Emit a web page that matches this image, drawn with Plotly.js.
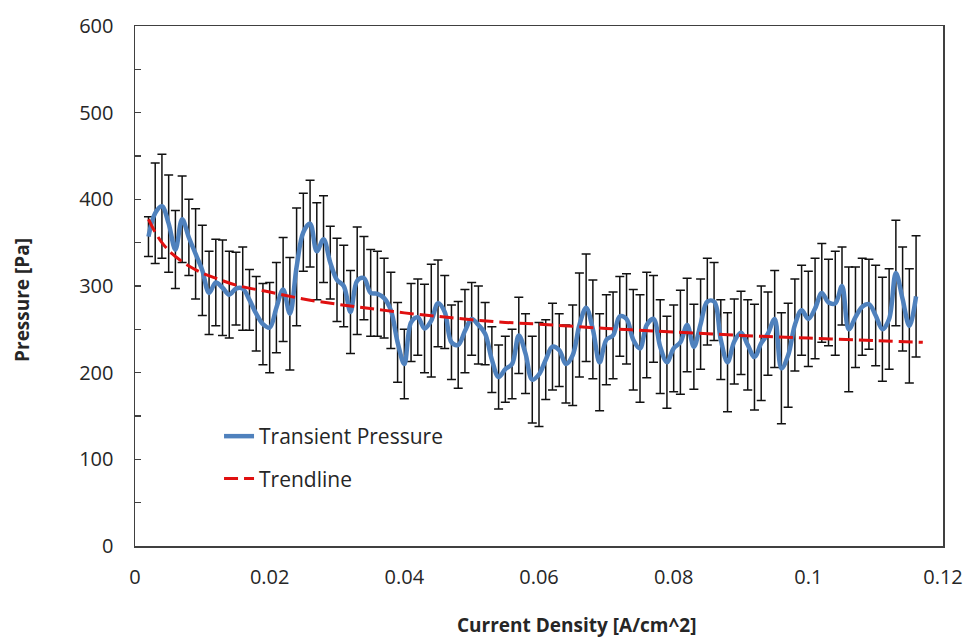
<!DOCTYPE html>
<html>
<head>
<meta charset="utf-8">
<script src="https://cdn.plot.ly/plotly-3.0.1.min.js"></script>
<style>
html,body{margin:0;padding:0;background:#fff;}
#chart{width:966px;height:642px;}
</style>
</head>
<body>
<div id="chart"></div>
<script>
// Current density [A/cm^2]
const currentDensity = [
0.002,0.003,0.004,0.005,0.006,0.007,0.008,0.009,0.010,0.011,
0.012,0.013,0.014,0.015,0.016,0.017,0.018,0.019,0.020,0.021,
0.022,0.023,0.024,0.025,0.026,0.027,0.028,0.029,0.030,0.031,
0.032,0.033,0.034,0.035,0.036,0.037,0.038,0.039,0.040,0.041,
0.042,0.043,0.044,0.045,0.046,0.047,0.048,0.049,0.050,0.051,
0.052,0.053,0.054,0.055,0.056,0.057,0.058,0.059,0.060,0.061,
0.062,0.063,0.064,0.065,0.066,0.067,0.068,0.069,0.070,0.071,
0.072,0.073,0.074,0.075,0.076,0.077,0.078,0.079,0.080,0.081,
0.082,0.083,0.084,0.085,0.086,0.087,0.088,0.089,0.090,0.091,
0.092,0.093,0.094,0.095,0.096,0.097,0.098,0.099,0.100,0.101,
0.102,0.103,0.104,0.105,0.106,0.107,0.108,0.109,0.110,0.111,
0.112,0.113,0.114,0.115,0.116];

// Transient pressure [Pa]
const pressure = [
357,384,392,372,342,377,356,337,318,292,
304,298,290,297,297,284,268,256,252,275,
296,268,322,362,372,340,354,327,307,300,
270,306,309,292,291,286,272,235,210,258,
264,251,260,280,270,235,232,248,262,255,
245,215,195,204,210,243,222,192,198,215,
230,226,210,220,255,275,250,212,238,243,
265,262,238,228,255,262,230,212,228,235,
255,230,256,282,282,238,212,236,246,232,
218,234,245,262,205,220,255,272,262,274,
292,281,280,300,250,264,276,279,266,250,
262,315,285,254,288];

// Error bar half-widths [Pa]
const pressureError = [
23,58,60,56,45,50,44,52,52,48,
50,55,50,42,48,35,43,47,52,52,
60,65,68,45,50,56,50,42,48,47,
48,62,48,50,49,46,44,46,40,45,
44,51,65,50,42,43,50,48,42,45,
36,38,37,38,40,44,46,50,60,46,
50,42,45,58,60,62,57,56,52,50,
46,52,58,62,61,50,54,53,50,60,
54,49,52,50,45,46,57,49,48,52,
61,66,48,56,64,60,53,52,55,58,
57,50,60,45,72,58,56,52,58,60,
58,61,60,66,70];

// Trendline
const trendX = [0.002,0.003,0.004,0.005,0.006,0.008,0.010,0.012,0.015,0.020,0.025,0.030,0.035,0.040,0.045,0.050,0.055,0.060,0.070,0.080,0.090,0.100,0.110,0.117];
const trendY = [377,362,350,341,334,323,315,309,301,293,285,279,274,269,265,261,258,256,251,247,243,240,237,235];

const xTickVals = [0,0.02,0.04,0.06,0.08,0.1,0.12];
const xTickText = ['0','0.02','0.04','0.06','0.08','0.1','0.12'];
const yTickVals = [0,100,200,300,400,500,600];

const FONT = '"Open Sans", "Noto Sans", sans-serif';
const TXT = '#262626';

const traces = [
  {
    x: currentDensity, y: pressure, type: 'scatter', mode: 'markers',
    marker: {size: 1, opacity: 0, color: '#000'},
    error_y: {type: 'data', array: pressureError, visible: true, color: '#111', thickness: 1.5, width: 4.5},
    showlegend: false, hoverinfo: 'skip'
  },
  {
    x: currentDensity, y: pressure, type: 'scatter', mode: 'lines',
    name: 'Transient Pressure', legendgroup: 'a',
    line: {color: '#4F81BD', width: 4.5, shape: 'spline', smoothing: 1}
  },
  {
    x: trendX, y: trendY, type: 'scatter', mode: 'lines',
    name: 'Trendline', legendgroup: 'b',
    line: {color: '#E01010', width: 3, dash: '14px,6px', shape: 'spline'}
  }
];

const layout = {
  width: 966, height: 642,
  margin: {l: 135, r: 23, t: 26, b: 96},
  paper_bgcolor: '#fff', plot_bgcolor: '#fff',
  font: {family: FONT, size: 20, color: TXT},
  showlegend: true,
  legend: {
    x: 0.104, y: 0.25, xanchor: 'left', yanchor: 'top',
    bgcolor: 'rgba(0,0,0,0)', borderwidth: 0,
    font: {family: FONT, size: 21, color: TXT},
    traceorder: 'grouped', tracegroupgap: 12
  },
  xaxis: {
    range: [0, 0.12], tickvals: xTickVals, ticktext: xTickText,
    showgrid: false, zeroline: false,
    showline: true, linecolor: '#404040', linewidth: 1.5, mirror: true,
    ticks: '', ticklabelstandoff: 12,
    tickfont: {family: FONT, size: 20, color: TXT}
  },
  yaxis: {
    range: [0, 600], tickvals: yTickVals,
    showgrid: false, zeroline: false,
    showline: true, linecolor: '#404040', linewidth: 1.5, mirror: true,
    ticks: 'inside', ticklen: 6, tickcolor: '#404040', tickwidth: 1.2,
    minor: {dtick: 50, ticks: 'inside', ticklen: 6, tickcolor: '#404040', tickwidth: 1.2},
    ticklabelstandoff: 16,
    tickfont: {family: FONT, size: 20, color: TXT}
  },
  annotations: [
    {text: '<b>Current Density [A/cm^2]</b>', xref: 'paper', yref: 'paper',
     x: 0.546, y: -0.152, xanchor: 'center', yanchor: 'middle', showarrow: false,
     font: {family: FONT, size: 19, color: TXT}},
    {text: '<b>Pressure [Pa]</b>', xref: 'paper', yref: 'paper', textangle: -90,
     x: -0.14, y: 0.473, xanchor: 'center', yanchor: 'middle', showarrow: false,
     font: {family: FONT, size: 19, color: TXT}}
  ]
};

Plotly.newPlot('chart', traces, layout, {displayModeBar: false, staticPlot: true});
</script>
</body>
</html>
